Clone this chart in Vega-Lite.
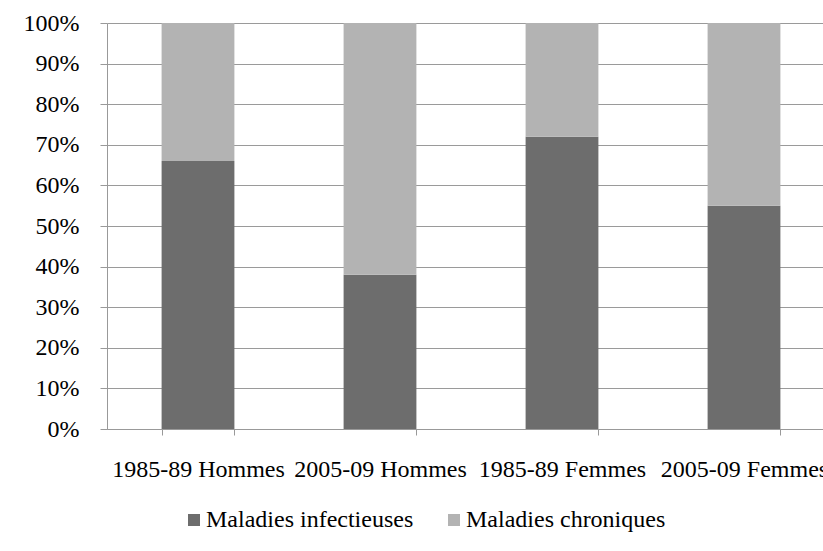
{
  "$schema": "https://vega.github.io/schema/vega-lite/v6.json",
  "width": 728,
  "height": 406,
  "autosize": {"type": "none"},
  "padding": {"left": 107, "top": 23, "right": 0, "bottom": 122},
  "background": "white",
  "config": {
    "view": {"stroke": null},
    "font": "Liberation Serif",
    "axis": {"labelFont": "Liberation Serif", "labelFontSize": 24, "labelColor": "#000000", "domainColor": "#999999", "tickColor": "#999999", "gridColor": "#9a9a9a", "domainWidth": 1, "tickWidth": 1},
    "legend": {"labelFont": "Liberation Serif", "labelFontSize": 24, "labelColor": "#000000", "labelLimit": 0}
  },
  "data": {
    "values": [
      {"groupe": "1985-89 Hommes", "cause": "Maladies infectieuses", "ordre": 1, "part": 0.66},
      {"groupe": "1985-89 Hommes", "cause": "Maladies chroniques", "ordre": 2, "part": 0.34},
      {"groupe": "2005-09 Hommes", "cause": "Maladies infectieuses", "ordre": 1, "part": 0.38},
      {"groupe": "2005-09 Hommes", "cause": "Maladies chroniques", "ordre": 2, "part": 0.62},
      {"groupe": "1985-89 Femmes", "cause": "Maladies infectieuses", "ordre": 1, "part": 0.72},
      {"groupe": "1985-89 Femmes", "cause": "Maladies chroniques", "ordre": 2, "part": 0.28},
      {"groupe": "2005-09 Femmes", "cause": "Maladies infectieuses", "ordre": 1, "part": 0.55},
      {"groupe": "2005-09 Femmes", "cause": "Maladies chroniques", "ordre": 2, "part": 0.45}
    ]
  },
  "mark": {"type": "bar"},
  "encoding": {
    "x": {
      "field": "groupe",
      "type": "nominal",
      "sort": ["1985-89 Hommes", "2005-09 Hommes", "1985-89 Femmes", "2005-09 Femmes"],
      "scale": {"paddingInner": 0.6, "paddingOuter": 0.3},
      "axis": {"title": null, "labelAngle": 0, "tickBand": "extent", "tickSize": 6, "labelPadding": 22, "grid": false, "labelOverlap": false, "labelLimit": 0, "labelFont": "Liberation Serif"}
    },
    "y": {
      "field": "part",
      "type": "quantitative",
      "stack": "zero",
      "scale": {"domain": [0, 1], "nice": false},
      "axis": {"title": null, "format": ".0%", "values": [0, 0.1, 0.2, 0.3, 0.4, 0.5, 0.6, 0.7, 0.8, 0.9, 1], "tickSize": 7, "labelPadding": 21, "grid": true, "labelFont": "Liberation Serif"}
    },
    "color": {
      "field": "cause",
      "type": "nominal",
      "sort": ["Maladies infectieuses", "Maladies chroniques"],
      "scale": {"domain": ["Maladies infectieuses", "Maladies chroniques"], "range": ["#6d6d6d", "#b3b3b3"]},
      "legend": {"title": null, "orient": "none", "direction": "horizontal", "legendX": 75, "legendY": 485, "symbolType": "square", "symbolSize": 144, "symbolStrokeWidth": 0, "symbolOpacity": 1, "labelOffset": 0, "columnPadding": 28, "padding": 0, "labelLimit": 0, "labelFont": "Liberation Serif", "labelFontSize": 24}
    },
    "order": {"field": "ordre", "type": "quantitative"}
  }
}
